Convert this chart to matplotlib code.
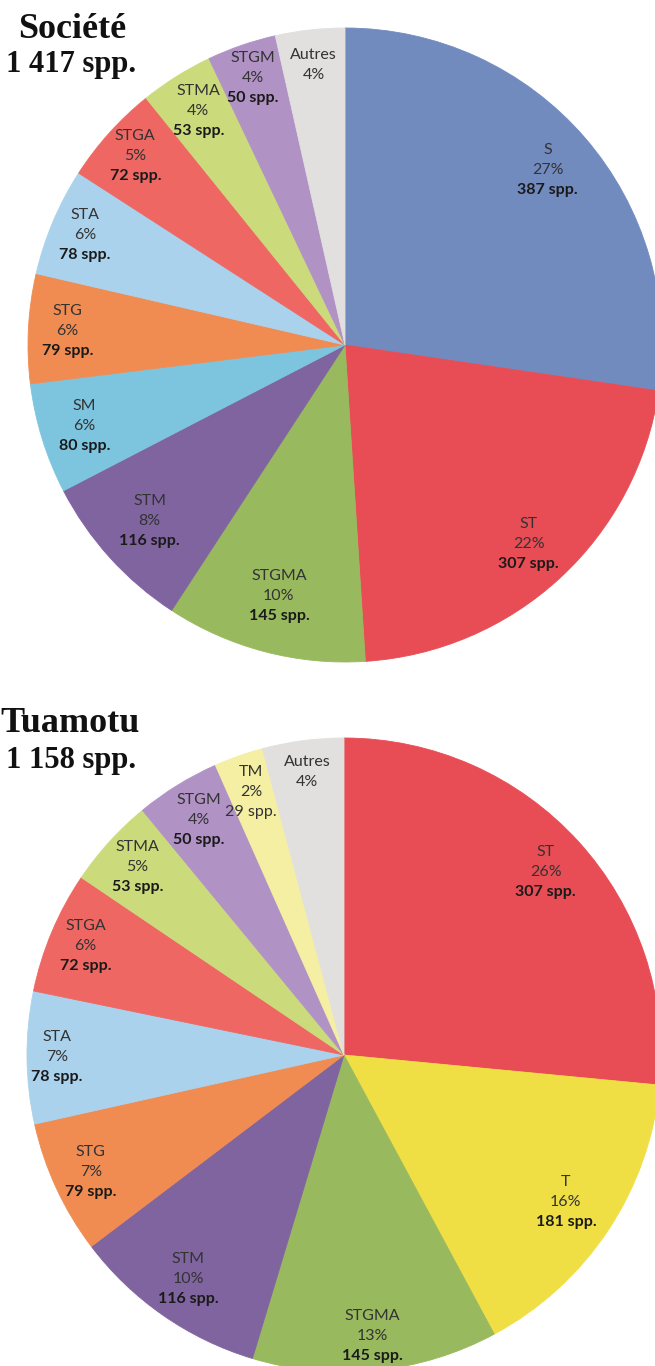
import numpy as np
import matplotlib
matplotlib.use("Agg")
import matplotlib.pyplot as plt

# ---------------- data ----------------
soc_title = "Société"
soc_total = "1 417 spp."
soc_cats = ["S", "ST", "STGMA", "STM", "SM", "STG", "STA", "STGA", "STMA", "STGM", "Autres"]
soc_counts = [387, 307, 145, 116, 80, 79, 78, 72, 53, 50, 50]
soc_pcts = ["27%", "22%", "10%", "8%", "6%", "6%", "6%", "5%", "4%", "4%", "4%"]
soc_show_count = [True] * 10 + [False]

tua_title = "Tuamotu"
tua_total = "1 158 spp."
tua_cats = ["ST", "T", "STGMA", "STM", "STG", "STA", "STGA", "STMA", "STGM", "TM", "Autres"]
tua_counts = [307, 181, 145, 116, 79, 78, 72, 53, 50, 29, 48]
tua_pcts = ["26%", "16%", "13%", "10%", "7%", "7%", "6%", "5%", "4%", "2%", "4%"]
tua_show_count = [True] * 10 + [False]

# ---------------- style ----------------
cat_colors = {
    "S": "#728BBF", "ST": "#E84C54", "STGMA": "#99B95E", "STM": "#80649F",
    "SM": "#7DC5DF", "STG": "#F08C52", "STA": "#AAD2EC", "STGA": "#EE6763",
    "STMA": "#CBDB7C", "STGM": "#B192C5", "Autres": "#E2E0DE",
    "T": "#F0DF44", "TM": "#F4EFA3",
}
soc_dist = [0.845, 0.855, 0.82, 0.83, 0.86, 0.877, 0.89, 0.89, 0.87, 0.89, 0.89]
tua_dist = [0.86, 0.84, 0.89, 0.86, 0.88, 0.905, 0.885, 0.88, 0.87, 0.88, 0.90]
bold_count = {"TM": False}

W, H = 655, 1366
fig = plt.figure(figsize=(W / 100, H / 100), dpi=100)
ax = fig.add_axes([0, 0, 1, 1])

label_font = ["Lato", "DejaVu Sans"]
LS = 20  # line spacing in px
R = 317


def draw_pie(counts, cats, pcts, show_count, dists, cx, cy_top):
    cy = H - cy_top
    wedges, _ = ax.pie(counts, colors=[cat_colors[c] for c in cats],
                       startangle=90, counterclock=False, radius=R,
                       center=(cx, cy), wedgeprops=dict(linewidth=0.6))
    for w in wedges:
        w.set_edgecolor(w.get_facecolor())
    for w, cat, cnt, pct, sc, d in zip(wedges, cats, counts, pcts, show_count, dists):
        th = np.deg2rad((w.theta1 + w.theta2) / 2)
        x = w.center[0] + w.r * d * np.cos(th)
        y = w.center[1] + w.r * d * np.sin(th)
        lines = [(cat, "normal"), (pct, "normal")]
        if sc:
            lines.append((f"{cnt} spp.",
                          "bold" if bold_count.get(cat, True) else "normal"))
        n = len(lines)
        for i, (txt, wt) in enumerate(lines):
            yy = y + (n - 1) / 2 * LS - i * LS
            ax.text(x, yy, txt, ha="center", va="center", fontsize=11.5,
                    family=label_font, fontweight=wt,
                    color="#1a1a1a" if wt == "bold" else "#333333")


draw_pie(soc_counts, soc_cats, soc_pcts, soc_show_count, soc_dist, 345, 345)
draw_pie(tua_counts, tua_cats, tua_pcts, tua_show_count, tua_dist, 344, 1055)

title_font = ["Liberation Serif", "DejaVu Serif"]
ax.text(72, H - 38, soc_title, ha="center", va="baseline", fontsize=26,
        fontweight="bold", family=title_font, color="#111111")
ax.text(71, H - 72, soc_total, ha="center", va="baseline", fontsize=22,
        fontweight="bold", family=title_font, color="#111111")
ax.text(70, H - 732, tua_title, ha="center", va="baseline", fontsize=26,
        fontweight="bold", family=title_font, color="#111111")
ax.text(71, H - 768, tua_total, ha="center", va="baseline", fontsize=22,
        fontweight="bold", family=title_font, color="#111111")

ax.set_xlim(0, W)
ax.set_ylim(0, H)
ax.set_aspect("equal")
ax.axis("off")

fig.savefig("out.png", dpi=100, facecolor="white")
